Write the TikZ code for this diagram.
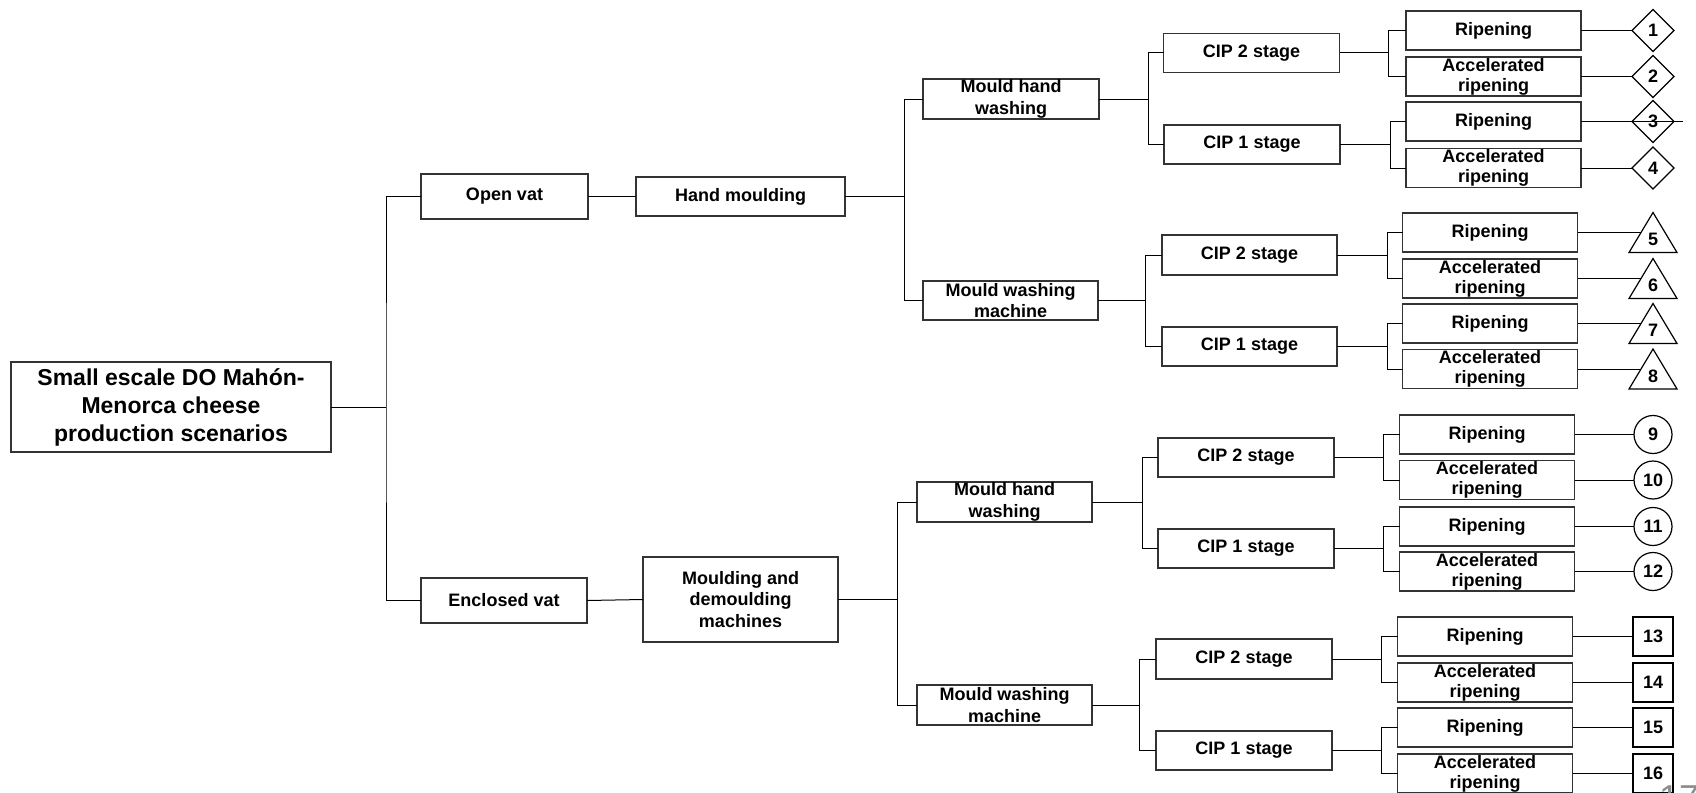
\documentclass[tikz,border=0pt]{standalone}
\usepackage{fontspec}
\setmainfont{Liberation Sans}
\usetikzlibrary{shapes.geometric,calc}
\begin{document}
\begin{tikzpicture}[x=1pt,y=-1pt,
  box/.style={draw=black!80, line width=1.2pt, rectangle, inner sep=0pt, outer sep=0pt,
    align=center, font=\fontsize{18}{21.5}\selectfont\bfseries},
  leaf/.style={box, minimum width=175, minimum height=39, font=\fontsize{18}{20}\selectfont\bfseries},
  conn/.style={draw=black, line width=1pt},
  dia/.style={draw=black, line width=1.2pt, shape=diamond, aspect=1, minimum width=42, minimum height=42,
    inner sep=0pt, outer sep=0pt, font=\fontsize{18}{20}\selectfont\bfseries},
  circ/.style={draw=black, line width=1.2pt, circle, minimum size=38, inner sep=0pt, outer sep=0pt,
    font=\fontsize{18}{20}\selectfont\bfseries},
  sq/.style={draw=black, line width=1.4pt, rectangle, minimum width=40, minimum height=39, inner sep=0pt,
    outer sep=0pt, font=\fontsize{18}{20}\selectfont\bfseries},
  tri/.style={draw=black, line width=1.2pt, line join=miter},
  num/.style={inner sep=0pt, font=\fontsize{18}{20}\selectfont\bfseries}
]
\useasboundingbox (0,0) rectangle (1696,792);
\clip (0,0) rectangle (1696,792);

% main boxes
\node[box, minimum width=320, minimum height=90, font=\fontsize{23}{28}\selectfont\bfseries] (root) at (171,407)
  {Small escale DO Mahón-\\Menorca cheese\\production scenarios};
\node[box, minimum width=167, minimum height=45] (ov) at (504.5,196.5) {Open vat};
\node[box, minimum width=209, minimum height=39] (hm) at (740.5,196.5) {Hand moulding};
\node[box, minimum width=166, minimum height=45] (ev) at (504,600.5) {Enclosed vat};
\node[box, minimum width=195, minimum height=85] (mm) at (740.5,599.5) {Moulding and\\demoulding\\machines};

\node[box, minimum width=176, minimum height=40] (a1) at (1011,99) {Mould hand\\washing};
\node[box, minimum width=175, minimum height=39] (a2) at (1010.5,300.5) {Mould washing\\machine};
\node[box, minimum width=175, minimum height=40] (b1) at (1004.5,502) {Mould hand\\washing};
\node[box, minimum width=175, minimum height=40] (b2) at (1004.5,705) {Mould washing\\machine};

\node[box, minimum width=176, minimum height=39] (c1) at (1251.5,53) {CIP 2 stage};
\node[box, minimum width=176, minimum height=39] (c2) at (1252,144.5) {CIP 1 stage};
\node[box, minimum width=175, minimum height=40] (c3) at (1249.5,255) {CIP 2 stage};
\node[box, minimum width=175, minimum height=39] (c4) at (1249.5,346.5) {CIP 1 stage};
\node[box, minimum width=176, minimum height=39] (c5) at (1246,457.5) {CIP 2 stage};
\node[box, minimum width=176, minimum height=39] (c6) at (1246,548.5) {CIP 1 stage};
\node[box, minimum width=176, minimum height=40] (c7) at (1244,659) {CIP 2 stage};
\node[box, minimum width=176, minimum height=39] (c8) at (1244,750.5) {CIP 1 stage};

% leaves
\node[leaf] (l1) at (1493.5,30.5) {Ripening};
\node[leaf] (l2) at (1493.5,76.5) {Accelerated\\ripening};
\node[leaf] (l3) at (1493.5,121.5) {Ripening};
\node[leaf] (l4) at (1493.5,168) {Accelerated\\ripening};
\node[leaf] (l5) at (1490,232.5) {Ripening};
\node[leaf] (l6) at (1490,278.5) {Accelerated\\ripening};
\node[leaf] (l7) at (1490,323.5) {Ripening};
\node[leaf] (l8) at (1490,369) {Accelerated\\ripening};
\node[leaf] (l9) at (1487,434.5) {Ripening};
\node[leaf] (l10) at (1487,480) {Accelerated\\ripening};
\node[leaf] (l11) at (1487,526.5) {Ripening};
\node[leaf] (l12) at (1487,571.5) {Accelerated\\ripening};
\node[leaf] (l13) at (1485,636.5) {Ripening};
\node[leaf] (l14) at (1485,682.5) {Accelerated\\ripening};
\node[leaf] (l15) at (1485,727.5) {Ripening};
\node[leaf] (l16) at (1485,773.5) {Accelerated\\ripening};

% end markers: diamonds
\node[dia] (m1) at (1653,30.5) {1};
\node[dia] (m2) at (1653,76.5) {2};
\node[dia] (m3) at (1653,121.5) {3};
\node[dia] (m4) at (1653,168) {4};
% triangles
\foreach \i/\cy in {5/232.5,6/278.5,7/323.5,8/369}{
  \coordinate (t\i a) at (1653,\cy-20);
  \coordinate (t\i b) at (1629,\cy+20);
  \coordinate (t\i c) at (1677,\cy+20);
  \draw[tri] (t\i a) -- (t\i b) -- (t\i c) -- cycle;
  \coordinate (e\i) at ($(t\i a)!0.5!(t\i b)$);
  \node[num] (m\i) at (1653,\cy+7) {\i};
}
% circles
\node[circ] (m9) at (1653,434.5) {9};
\node[circ] (m10) at (1653,480) {10};
\node[circ] (m11) at (1653,526.5) {11};
\node[circ] (m12) at (1653,571.5) {12};
% squares
\node[sq] (m13) at (1653,636.5) {13};
\node[sq] (m14) at (1653,682.5) {14};
\node[sq] (m15) at (1653,727.5) {15};
\node[sq] (m16) at (1653,773.5) {16};

% junctions
\coordinate (j0) at (386,407);
\coordinate (j1) at (904,196.5);
\coordinate (j2) at (897,599.5);
\coordinate (ja1) at (1148,99);
\coordinate (ja2) at (1145,300.5);
\coordinate (jb1) at (1142,502);
\coordinate (jb2) at (1139,705);
\coordinate (k1) at (1388,53);
\coordinate (k2) at (1390,144.5);
\coordinate (k3) at (1387,255);
\coordinate (k4) at (1387,346.5);
\coordinate (k5) at (1383,457.5);
\coordinate (k6) at (1383,548.5);
\coordinate (k7) at (1381,659);
\coordinate (k8) at (1381,750.5);
\coordinate (x3) at (1683,121.5);

% connectors
\draw[conn] (root.east) -- (j0);
\draw[conn] (ov.west) -| (j0) |- (ev.west);
\draw[conn] (ov.east) -- (hm.west);
\draw[conn] (ev.east) -- (mm.west);
\draw[conn] (hm.east) -- (j1);
\draw[conn] (a1.west) -| (j1) |- (a2.west);
\draw[conn] (mm.east) -- (j2);
\draw[conn] (b1.west) -| (j2) |- (b2.west);

\draw[conn] (a1.east) -- (ja1);
\draw[conn] (c1.west) -| (ja1) |- (c2.west);
\draw[conn] (a2.east) -- (ja2);
\draw[conn] (c3.west) -| (ja2) |- (c4.west);
\draw[conn] (b1.east) -- (jb1);
\draw[conn] (c5.west) -| (jb1) |- (c6.west);
\draw[conn] (b2.east) -- (jb2);
\draw[conn] (c7.west) -| (jb2) |- (c8.west);

\foreach \c/\k/\u/\v in {c1/k1/l1/l2, c2/k2/l3/l4, c3/k3/l5/l6, c4/k4/l7/l8,
                         c5/k5/l9/l10, c6/k6/l11/l12, c7/k7/l13/l14, c8/k8/l15/l16}{
  \draw[conn] (\c.east) -- (\k);
  \draw[conn] (\u.west) -| (\k) |- (\v.west);
}

\draw[conn] (l1.east) -- (m1.west);
\draw[conn] (l2.east) -- (m2.west);
\draw[conn] (l3.east) -- (x3);
\draw[conn] (l4.east) -- (m4.west);
\foreach \i in {5,6,7,8}{ \draw[conn] (l\i.east) -- (e\i); }
\foreach \i in {9,10,11,12,13,14,15,16}{ \draw[conn] (l\i.east) -- (m\i.west); }

% page number fragment
\node[inner sep=0pt, anchor=north west, text=black!45, font=\fontsize{36}{36}\selectfont] (pg) at (1659,786) {17};
\end{tikzpicture}
\end{document}
